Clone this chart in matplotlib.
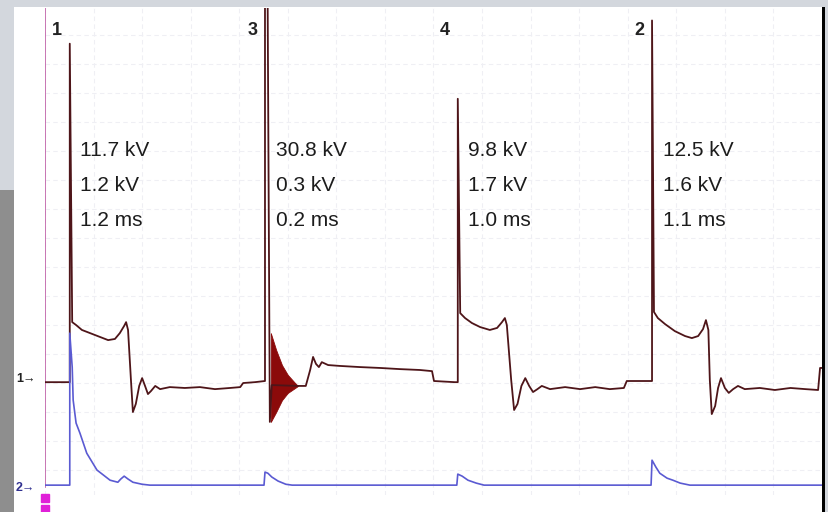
import numpy as np
import matplotlib
matplotlib.use("Agg")
import matplotlib.pyplot as plt
from matplotlib.patches import Rectangle

plt.rcParams['font.family'] = ['Liberation Sans', 'DejaVu Sans']

# Firing order and per-cylinder readings
cylinders = ["1", "3", "4", "2"]
fire_ms = [0.51, 4.53, 8.50, 12.50]
peak_kv = [11.7, 30.8, 9.8, 12.5]
burn_kv = [1.2, 0.3, 1.7, 1.6]
burn_ms = [1.2, 0.2, 1.0, 1.1]

# Channel 1: secondary ignition voltage (ms, kV)
ch1_t = [0.00, 0.47, 0.51, 0.51, 0.56, 0.64, 0.76, 0.93, 1.13, 1.30, 1.44, 1.54, 1.63, 1.67,
         1.71, 1.77, 1.81, 1.87, 1.94, 2.00, 2.06, 2.12, 2.18, 2.27, 2.37, 2.57, 2.88, 3.19,
         3.50, 3.81, 4.02, 4.08, 4.32, 4.53, 4.53, 4.63, 4.67, 5.21, 5.37, 5.46, 5.52, 5.58,
         5.64, 5.70, 5.83, 6.07, 6.49, 6.90, 7.31, 7.72, 7.97, 8.01, 8.44, 8.50, 8.50, 8.55,
         8.65, 8.79, 8.96, 9.16, 9.31, 9.41, 9.47, 9.51, 9.60, 9.66, 9.73, 9.81, 9.89, 9.97,
         10.05, 10.14, 10.23, 10.40, 10.71, 11.02, 11.33, 11.63, 11.92, 11.98, 12.46, 12.50,
         12.50, 12.54, 12.62, 12.77, 12.97, 13.18, 13.32, 13.45, 13.55, 13.61, 13.66, 13.69,
         13.73, 13.80, 13.86, 13.92, 14.00, 14.08, 14.17, 14.27, 14.41, 14.72, 15.03, 15.35,
         15.66, 15.92, 15.96, 16.00]
ch1_kv = [0.03, 0.03, 0.03, 11.7, 2.10, 2.00, 1.83, 1.72, 1.59, 1.48, 1.52, 1.72, 1.97, 2.10,
          1.83, 0.10, -1.00, -0.72, -0.10, 0.17, -0.10, -0.38, -0.28, -0.10, -0.21, -0.14,
          -0.17, -0.14, -0.21, -0.17, -0.14, 0.00, 0.03, 0.07, 30.8, -1.34, -0.07, -0.10,
          -0.10, 0.45, 0.90, 0.66, 0.55, 0.72, 0.62, 0.59, 0.55, 0.52, 0.48, 0.45, 0.41, 0.07,
          0.03, 0.03, 9.8, 2.41, 2.24, 2.07, 1.93, 1.83, 1.90, 2.10, 2.24, 2.00, 0.10, -0.93,
          -0.72, -0.10, 0.17, -0.10, -0.31, -0.21, -0.10, -0.21, -0.14, -0.21, -0.14, -0.21,
          -0.17, 0.07, 0.07, 0.07, 12.5, 2.45, 2.24, 2.03, 1.79, 1.62, 1.55, 1.62, 1.86, 2.17,
          1.83, 0.10, -1.07, -0.79, -0.17, 0.17, -0.17, -0.34, -0.21, -0.10, -0.21, -0.17,
          -0.24, -0.17, -0.21, -0.24, 0.52, 0.52]

# Oscillation envelope after the cylinder 3 spark
ring_t = [4.65, 4.76, 4.88, 5.00, 5.15, 5.21]
ring_hi = [1.72, 1.14, 0.62, 0.28, 0.00, -0.10]
ring_lo = [-1.34, -1.00, -0.59, -0.34, -0.17, -0.10]

# Channel 2: primary signal (ms, amplitude above its baseline)
ch2_t = [0.00, 0.51, 0.51, 0.56, 0.58, 0.64, 0.72, 0.86, 1.07, 1.34, 1.50, 1.56, 1.63, 1.71,
         1.81, 2.00, 2.16, 4.51, 4.53, 4.59, 4.67, 4.80, 4.96, 5.09, 8.48, 8.50, 8.59, 8.71,
         8.88, 9.04, 12.48, 12.50, 12.58, 12.66, 12.81, 12.93, 13.08, 13.28, 16.00]
ch2_v = [0.00, 0.00, 5.24, 4.07, 2.93, 2.14, 1.79, 1.10, 0.52, 0.17, 0.10, 0.21, 0.31, 0.21,
         0.10, 0.03, 0.00, 0.00, 0.45, 0.41, 0.28, 0.14, 0.03, 0.00, 0.00, 0.38, 0.31, 0.17,
         0.07, 0.00, 0.00, 0.86, 0.62, 0.41, 0.24, 0.17, 0.07, 0.00, 0.00]
CH2_OFFSET = -3.52

W, H = 829, 512
fig = plt.figure(figsize=(W / 100, H / 100), dpi=100)
fig.patch.set_facecolor('#d3d7dd')

# darker strip at the lower left edge
fig.add_artist(Rectangle((0, 0), 14 / W, 322 / H, transform=fig.transFigure,
                         facecolor='#8e8e8e', edgecolor='none', zorder=0))
# white scope screen
fig.add_artist(Rectangle((14 / W, 0), (822 - 14) / W, (512 - 7) / H, transform=fig.transFigure,
                         facecolor='white', edgecolor='none', zorder=0))
# black frame at the right edge
fig.add_artist(Rectangle((822 / W, 0), 3 / W, (512 - 7) / H, transform=fig.transFigure,
                         facecolor='black', edgecolor='none', zorder=1))

ax = fig.add_axes([45 / W, (512 - 495) / H, (822 - 45) / W, (495 - 8) / H])
ax.set_facecolor('none')
ax.set_xlim(0, 16)
ax.set_ylim(-3.86, 12.93)
for s in ax.spines.values():
    s.set_visible(False)
ax.set_xticks(np.arange(0, 16.01, 1))
ax.set_yticks(np.arange(-3, 12.5, 1))
ax.tick_params(length=0, labelbottom=False, labelleft=False)
ax.grid(True, color='#efeff4', linestyle=(0, (4, 3)), linewidth=0.8)
ax.set_axisbelow(True)

# trigger line on the left edge
ax.plot([0, 0], [CH2_OFFSET - 0.05, 12.93], color='#c060a8', lw=1.2, zorder=2)

# traces
ax.fill_between(ring_t, ring_lo, ring_hi, color='#8b0a0a', lw=0.6, zorder=3)
ax.plot(ch1_t, ch1_kv, color='#4e1519', lw=1.3, zorder=4)
ax.plot(ch2_t, np.array(ch2_v) + CH2_OFFSET, color='#5a5ad2', lw=1.2, zorder=4)

# channel markers
ax.text(-0.6, 0.15, "1\u2192", fontsize=9, color='#222222', ha='left', va='center',
        fontweight='bold', clip_on=False)
ax.text(-0.6, CH2_OFFSET - 0.1, "2\u2192", fontsize=9, color='#303090', ha='left', va='center',
        fontweight='bold', clip_on=False)
ax.plot([0, 0], [-3.97, -4.33], ls='none', marker='s', ms=6, color='#e020d8', clip_on=False,
        zorder=5)

# per-cylinder labels
for cyl, t0, pk, bk, bm in zip(cylinders, fire_ms, peak_kv, burn_kv, burn_ms):
    ax.text(t0 - 0.26, 12.17, cyl, fontsize=13, fontweight='bold', color='#222222',
            ha='center', va='center')
    for v, txt in zip([8.0, 6.8, 5.6],
                      [f"{pk:.1f} kV", f"{bk:.1f} kV", f"{bm:.1f} ms"]):
        ax.text(t0 + 0.22, v, txt, fontsize=15, color='#1c1c1c', ha='left', va='center')

fig.savefig("out.png", dpi=100)
